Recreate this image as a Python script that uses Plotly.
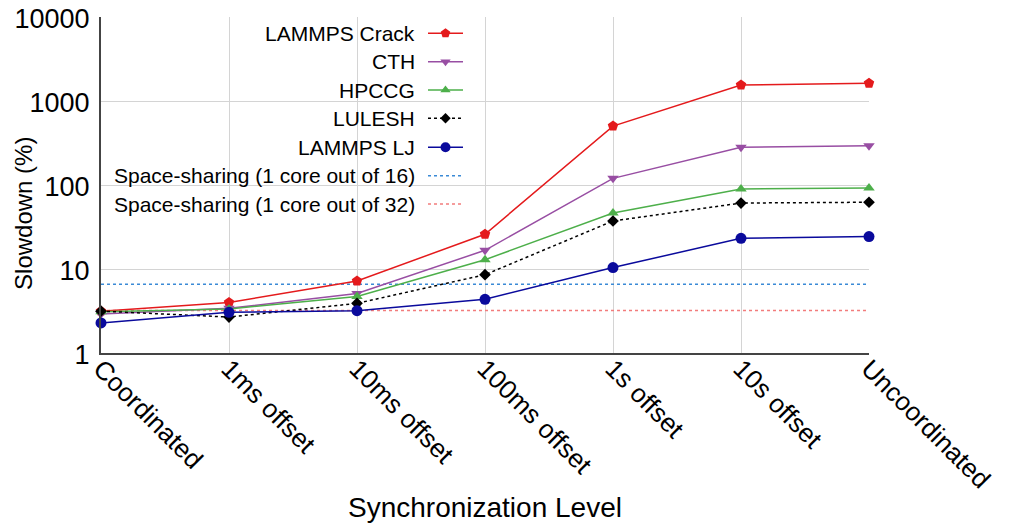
import plotly.graph_objects as go

categories = ["Coordinated", "1ms offset", "10ms offset", "100ms offset",
              "1s offset", "10s offset", "Uncoordinated"]

lammps_crack = [3.15, 4.0, 7.2, 25.9, 503, 1550, 1630]
cth = [2.92, 3.4, 5.1, 16.7, 120, 281, 294]
hpccg = [3.1, 3.35, 4.7, 12.9, 46.4, 89.6, 92]
lulesh = [3.15, 2.68, 3.9, 8.55, 37.3, 61, 62.3]
lammps_lj = [2.28, 3.05, 3.19, 4.36, 10.4, 23.2, 24.3]
space16 = [6.6, 6.6]
space32 = [3.2, 3.2]

y_ticks = [1, 10, 100, 1000, 10000]
y_tick_labels = ["1", "10", "100", "1000", "10000"]

series = [
    ("LAMMPS Crack", lammps_crack, "#e41a1c", "pentagon", 11, "solid"),
    ("CTH", cth, "#984ea3", "triangle-down", 10, "solid"),
    ("HPCCG", hpccg, "#4daf4a", "triangle-up", 10, "solid"),
    ("LULESH", lulesh, "#000000", "diamond", 9, "3px,3px"),
    ("LAMMPS LJ", lammps_lj, "#0a0a9c", "circle", 11, "solid"),
]
refs = [
    ("Space-sharing (1 core out of 16)", space16, "#3a8ad6"),
    ("Space-sharing (1 core out of 32)", space32, "#f27c7c"),
]

FONT = "Liberation Sans, Arial, Helvetica, sans-serif"
xs = list(range(len(categories)))

fig = go.Figure()

# reference lines
for name, vals, color in refs:
    fig.add_trace(go.Scatter(
        x=[xs[0], xs[-1]], y=vals, mode="lines", name=name,
        line=dict(color=color, width=1.5, dash="3px,3px"),
        showlegend=False, cliponaxis=False))

# data series
for name, vals, color, sym, size, dash in series:
    fig.add_trace(go.Scatter(
        x=xs, y=vals, mode="lines+markers", name=name,
        line=dict(color=color, width=1.5, dash=dash),
        marker=dict(color=color, symbol=sym, size=size),
        showlegend=False, cliponaxis=False))

# manual legend (symbol on the right of the text), drawn in a pixel-like overlay axis
legend_rows = [33.3, 61.7, 90, 118.3, 147.3, 175.7, 204]
legend_items = [(s[0], s[2], s[3], s[4], s[5], True) for s in series] + \
               [(r[0], r[2], None, 0, "3px,3px", False) for r in refs]
text_right = 417
line_x0, line_x1 = 428, 463
for (name, color, sym, size, dash, has_marker), yy in zip(legend_items, legend_rows):
    fig.add_trace(go.Scatter(
        x=[line_x0, line_x1], y=[yy, yy], mode="lines", xaxis="x2", yaxis="y2",
        line=dict(color=color, width=1.5, dash=dash), showlegend=False,
        hoverinfo="skip", cliponaxis=False))
    if has_marker:
        fig.add_trace(go.Scatter(
            x=[(line_x0 + line_x1) / 2], y=[yy], mode="markers", xaxis="x2", yaxis="y2",
            marker=dict(color=color, symbol=sym, size=size - 1), showlegend=False,
            hoverinfo="skip", cliponaxis=False))
    fig.add_annotation(x=text_right, y=yy, xref="x2", yref="y2", text=name,
                       showarrow=False, xanchor="right", yanchor="middle",
                       font=dict(family=FONT, size=21, color="black"))

# white legend background covering the grid
fig.add_shape(type="rect", xref="x domain", yref="y domain",
              x0=0.003, x1=0.491, y0=0.402, y1=0.993,
              fillcolor="white", line=dict(width=0), layer="below")

# axis titles (paper coordinates relative to the plot area)
fig.add_annotation(x=0.5, y=-0.461, xref="paper", yref="paper",
                   text="Synchronization Level",
                   showarrow=False, xanchor="center", yanchor="middle",
                   font=dict(family=FONT, size=28, color="black"))
fig.add_annotation(x=-0.1003, y=0.4167, xref="paper", yref="paper", text="Slowdown (%)",
                   showarrow=False, xanchor="center", yanchor="middle", textangle=-90,
                   font=dict(family=FONT, size=24, color="black"))

# the page body has an 8px margin, so the figure is shrunk/offset to compensate
fig.update_layout(
    width=1002, height=521,
    margin=dict(l=93, r=141, t=9, b=176),
    paper_bgcolor="white", plot_bgcolor="white",
    font=dict(family=FONT, color="black"),
    showlegend=False,
    xaxis=dict(
        range=[0, 6], tickvals=xs, ticktext=categories, tickangle=45,
        tickfont=dict(size=26, family=FONT, color="black"),
        showgrid=True, gridcolor="#d4d4d4", gridwidth=1,
        showline=True, linecolor="#444444", linewidth=2, mirror=False,
        ticks="", ticklen=0, zeroline=False, ticklabelstandoff=-12, automargin=False,
        ticklabeloverflow="allow",
    ),
    yaxis=dict(
        type="log", range=[0, 4], tickvals=y_ticks, ticktext=y_tick_labels,
        tickfont=dict(size=27, family=FONT, color="black"),
        showgrid=True, gridcolor="#d4d4d4", gridwidth=1,
        showline=True, linecolor="#444444", linewidth=2, mirror=False,
        ticks="", ticklen=0, zeroline=False, ticklabelstandoff=4, automargin=False,
        ticklabeloverflow="allow", ticklabelshift=2,
    ),
    xaxis2=dict(overlaying="x", range=[101, 869], visible=False, fixedrange=True),
    yaxis2=dict(overlaying="y", range=[353, 17], visible=False, fixedrange=True),
)

fig.write_html("out.html")
